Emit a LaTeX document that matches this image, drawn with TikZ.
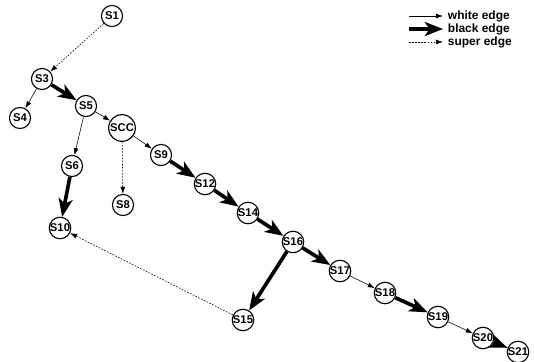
\documentclass[tikz,border=0pt]{standalone}
\usepackage{fontspec}
\setmainfont{Liberation Sans}
\usepackage{tikz}
\usetikzlibrary{arrows.meta}

\tikzset{
  state/.style={circle, draw, thick, fill=white, inner sep=0pt, minimum size=15pt,
    font=\fontsize{8}{9}\selectfont\bfseries},
  bigstate/.style={state, minimum size=19pt},
  whiteedge/.style={-{Latex[length=5pt,width=3.5pt]}, thin},
  blackedge/.style={-{Stealth[length=13pt,width=10pt,inset=3.5pt]}, line width=2.6pt},
  superedge/.style={-{Latex[length=5pt,width=3.5pt]}, thin, dash pattern=on 1.2pt off 1pt},
}

\begin{document}
\begin{tikzpicture}[x=0.025cm, y=-0.025cm]

\useasboundingbox (0,0) rectangle (534,362);

% States
\node[state] (s1) at (112,16) {S1};
\node[state] (s3) at (42,79) {S3};
\node[state] (s4) at (20,118) {S4};
\node[state] (s5) at (86,106) {S5};
\node[bigstate] (scc) at (122,128) {SCC};
\node[state] (s6) at (72,166) {S6};
\node[state] (s8) at (123,205) {S8};
\node[state] (s9) at (161,155) {S9};
\node[state] (s10) at (60,228) {S10};
\node[state] (s12) at (205,184) {S12};
\node[state] (s14) at (248,213) {S14};
\node[state] (s16) at (293,242) {S16};
\node[state] (s17) at (340,271) {S17};
\node[state] (s15) at (243,320) {S15};
\node[state] (s18) at (385,293) {S18};
\node[state] (s19) at (438,317) {S19};
\node[state] (s20) at (483,338) {S20};
\node[state] (s21) at (518,352) {S21};

% White edges
\draw[whiteedge] (s3) -- (s4);
\draw[whiteedge] (s5) -- (scc);
\draw[whiteedge] (s5) -- (s6);
\draw[whiteedge] (scc) -- (s9);
\draw[whiteedge] (s17) -- (s18);
\draw[whiteedge] (s19) -- (s20);

% Black edges
\draw[blackedge] (s3) -- (s5);
\draw[blackedge] (s6) -- (s10);
\draw[blackedge] (s9) -- (s12);
\draw[blackedge] (s12) -- (s14);
\draw[blackedge] (s14) -- (s16);
\draw[blackedge] (s16) -- (s17);
\draw[blackedge] (s16) -- (s15);
\draw[blackedge] (s18) -- (s19);
\draw[blackedge] (s20) -- (s21);

% Super edges
\draw[superedge] (s1) -- (s3);
\draw[superedge] (scc) -- (s8);
\draw[superedge] (s15) -- (s10);

% Legend
\coordinate (lw) at (409,16);
\coordinate (lb) at (409,29);
\coordinate (ls) at (409,42);
\node[anchor=west, font=\fontsize{8.5}{9}\selectfont\bfseries] (tw) at (443,16) {white edge};
\node[anchor=west, font=\fontsize{8.5}{9}\selectfont\bfseries] (tb) at (443,29) {black edge};
\node[anchor=west, font=\fontsize{8.5}{9}\selectfont\bfseries] (ts) at (443,42) {super edge};
\draw[whiteedge] (lw) -- (tw.west);
\draw[blackedge] (lb) -- (tb.west);
\draw[superedge] (ls) -- (ts.west);

\end{tikzpicture}
\end{document}
